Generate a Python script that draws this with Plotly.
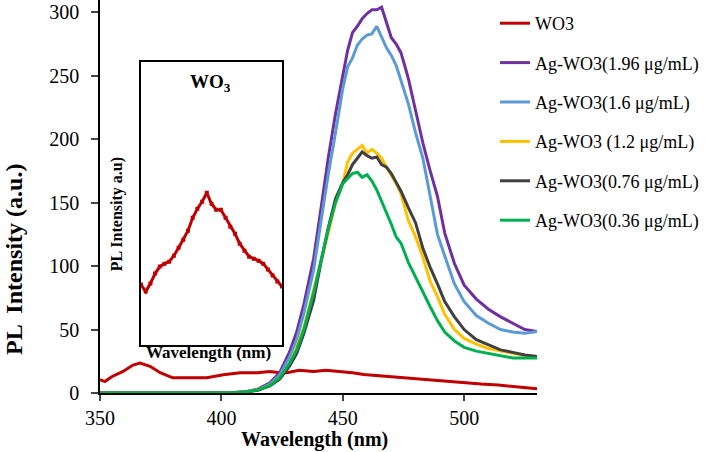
import plotly.graph_objects as go

# ---------------- data ----------------
series_names = ["WO3", "Ag-WO3(1.96 μg/mL)", "Ag-WO3(1.6 μg/mL)", "Ag-WO3 (1.2 μg/mL)",
                "Ag-WO3(0.76 μg/mL)", "Ag-WO3(0.36 μg/mL)"]
series_colors = ["#C00000", "#7030A0", "#5B9BD5", "#FFC000", "#404040", "#00B050"]

wo3_wl = [350, 352, 355, 359.5, 363.6, 366.5, 370.6, 374.8, 380, 387, 394, 400.8, 407.8, 414.8,
          420, 424, 427, 432, 438, 443, 449, 454, 458.6, 465, 472.6, 479, 486, 493, 500, 507,
          514, 522, 530]
wo3_pl = [10.5, 9, 13, 17, 22, 23.6, 21, 16, 12, 12, 12, 14.4, 16, 16, 17, 16, 16, 18, 17, 18,
          17, 16, 14.5, 13.5, 12, 11, 9.7, 8.7, 7.6, 7, 6.3, 5, 3.4]

wl = [350, 360, 370, 380, 390, 400, 405, 410, 415, 420, 424, 428, 431, 434, 438, 441, 444, 447,
      450, 452, 454, 456, 458, 460, 462, 464, 466, 468, 470, 472, 474, 477, 480, 483, 486, 489,
      492, 496, 500, 505, 510, 515, 520, 525, 530]
ag_196 = [0, 0, 0, 0, 0, 0, 0.3, 1, 3, 8, 16, 32, 48, 70, 106, 145, 185, 220, 252, 270, 284,
          289, 295, 299, 302, 302, 304, 292, 280, 275, 268, 248, 223, 197, 175, 155, 126, 102,
          85, 74, 66, 60, 55, 50, 48.5]
ag_16 = [0, 0, 0, 0, 0, 0, 0.3, 1, 2.5, 7, 14, 28, 42, 63, 97, 135, 172, 205, 240, 257, 264,
         274, 279, 282, 283, 289, 280, 272, 266, 258, 246, 228, 205, 185, 155, 125, 108, 86,
         72, 61, 55, 50, 48, 47, 48.5]
ag_12 = [0, 0, 0, 0, 0, 0, 0.2, 0.8, 2.5, 6, 12, 23, 36, 52, 81, 104, 126, 150, 165, 182, 189,
         192, 195, 189, 192, 189, 185, 178, 172, 165, 157, 136, 123, 107, 88, 76, 62, 50, 43,
         38.5, 35, 33, 31, 29.5, 28.8]
ag_076 = [0, 0, 0, 0, 0, 0, 0.2, 0.7, 2.2, 5.5, 11, 21, 31, 47, 73, 103, 130, 153, 166, 172,
          180, 185, 190, 187, 185, 186, 180, 178, 173, 166, 159, 146, 134, 114, 99, 86, 72, 60,
          50, 42, 38, 34, 32, 30, 28.8]
ag_036 = [0, 0, 0, 0, 0, 0, 0.2, 0.8, 2.5, 6, 12, 23, 34, 50, 79, 104, 129, 150, 165, 169, 173,
          174, 170, 172, 167, 160, 151, 143, 133, 123, 118, 103, 91, 80, 68, 57, 48, 41, 36, 33,
          31, 29, 27.6, 27.5, 27.6]

x_ticks = [350, 400, 450, 500]
y_ticks = [0, 50, 100, 150, 200, 250, 300]

# inset (WO3, arbitrary units)
inset_x = list(range(31))
inset_y = [6.1, 5.4, 6.2, 7.2, 7.9, 8.2, 8.4, 9.0, 9.8, 10.6, 11.5, 12.8, 13.7, 14.4, 15.3,
           14.2, 13.6, 13.6, 12.8, 11.9, 11.2, 10.2, 9.5, 8.9, 8.7, 8.5, 8.2, 7.6, 7.0, 6.4, 5.9]

FONT = "Times New Roman, Liberation Serif, serif"

# ---------------- figure ----------------
fig = go.Figure()
ag_series = [ag_196, ag_16, ag_12, ag_076, ag_036]

fig.add_trace(go.Scatter(x=wo3_wl, y=wo3_pl, mode="lines", name=series_names[0],
                         legendgroup="g0", line=dict(color=series_colors[0], width=3)))
for i, ys in enumerate(ag_series, start=1):
    fig.add_trace(go.Scatter(x=wl, y=ys, mode="lines", name=series_names[i],
                             legendgroup=f"g{i}", line=dict(color=series_colors[i], width=3)))

fig.add_trace(go.Scatter(x=inset_x, y=inset_y, mode="lines+markers", showlegend=False,
                         xaxis="x2", yaxis="y2",
                         line=dict(color="#C00000", width=3),
                         marker=dict(symbol="square", size=4, color="#C00000")))

fig.update_layout(
    width=705, height=452,
    margin=dict(l=100, r=168, t=0, b=59),
    paper_bgcolor="white", plot_bgcolor="white",
    font=dict(family=FONT, color="black", size=20),
    xaxis=dict(range=[350, 530], tickvals=x_ticks, ticks="outside", ticklen=6, tickwidth=1.5,
               showline=True, linecolor="black", linewidth=1.5, showgrid=False, zeroline=False,
               tickfont=dict(size=20)),
    yaxis=dict(range=[0, 309.7], tickvals=y_ticks, ticks="outside", ticklen=7, tickwidth=1.5,
               showline=True, linecolor="black", linewidth=1.5, showgrid=False, zeroline=False,
               tickfont=dict(size=20), ticklabelstandoff=8),
    xaxis2=dict(domain=[0.0938, 0.4165], anchor="y2", range=[0, 30], showticklabels=False,
                ticks="", showline=True, mirror=True, linecolor="black", linewidth=1.5,
                showgrid=False, zeroline=False),
    yaxis2=dict(domain=[0.121, 0.842], anchor="x2", range=[0, 28.4], showticklabels=False,
                ticks="", showline=True, mirror=True, linecolor="black", linewidth=1.5,
                showgrid=False, zeroline=False),
    legend=dict(x=0.9039, y=1 - 5 / 393.3, xanchor="left", yanchor="top",
                bgcolor="rgba(0,0,0,0)", font=dict(size=18, family=FONT),
                tracegroupgap=13, itemwidth=30),
    showlegend=True,
)

fig.add_annotation(text="<b>Wavelength (nm)</b>", xref="paper", yref="paper",
                   x=0.49, y=-0.119, showarrow=False, font=dict(size=20),
                   xanchor="center", yanchor="middle")
fig.add_annotation(text="<b>PL  Intensity (a.u.)</b>", xref="paper", yref="paper",
                   x=-0.1968, y=0.341, textangle=-90, showarrow=False, font=dict(size=24),
                   xanchor="center", yanchor="middle")
# inset labels
fig.add_annotation(text="<b>WO<sub>3</sub></b>", xref="paper", yref="paper",
                   x=0.252, y=0.79, showarrow=False, font=dict(size=19),
                   xanchor="center", yanchor="middle")
fig.add_annotation(text="<b>Wavelength (nm)</b>", xref="paper", yref="paper",
                   x=0.249, y=0.102, showarrow=False, font=dict(size=17),
                   xanchor="center", yanchor="middle")
fig.add_annotation(text="<b>PL Intensity a.u)</b>", xref="paper", yref="paper",
                   x=0.039, y=0.455, textangle=-90, showarrow=False, font=dict(size=16),
                   xanchor="center", yanchor="middle")

fig.write_html("out.html", config={"displayModeBar": False},
               post_script="document.body.style.margin='0';document.body.style.padding='0';")
